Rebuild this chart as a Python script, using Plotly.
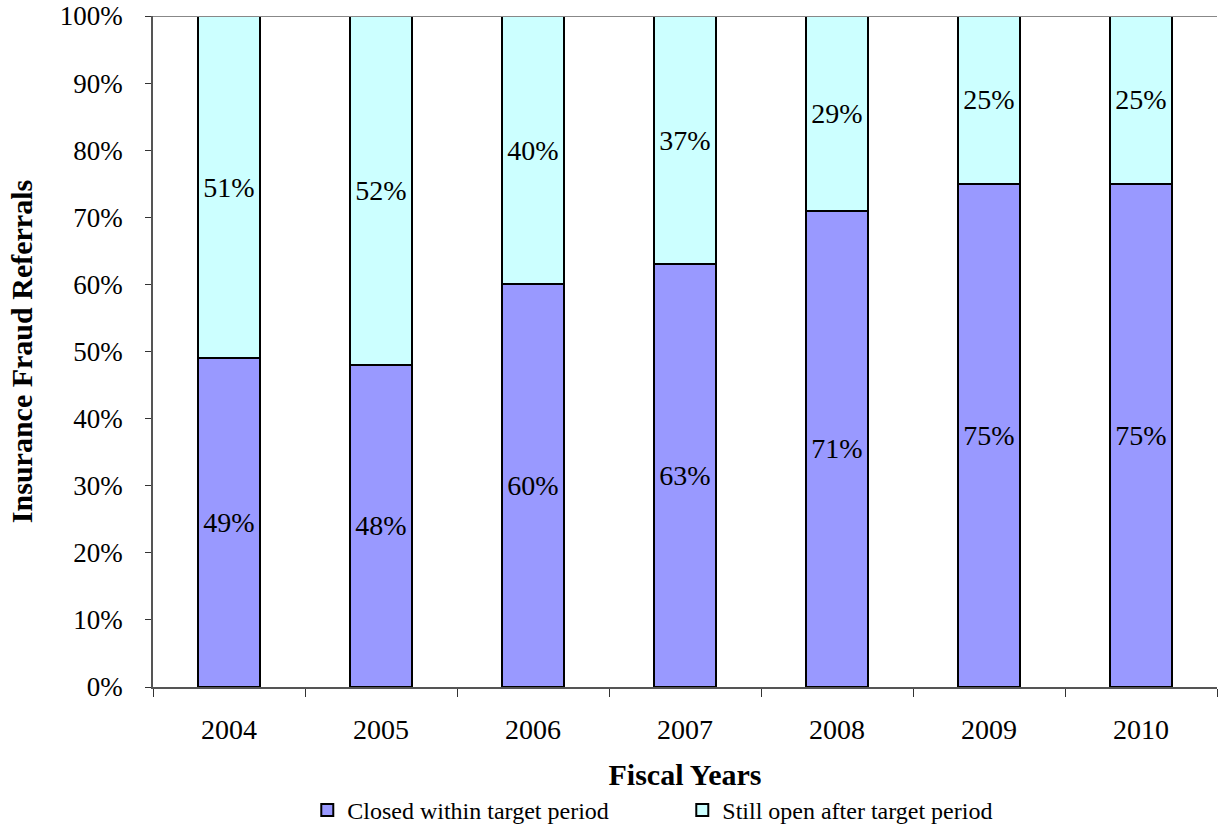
import plotly.graph_objects as go

years = ["2004", "2005", "2006", "2007", "2008", "2009", "2010"]
closed = [49, 48, 60, 63, 71, 75, 75]
still_open = [51, 52, 40, 37, 29, 25, 25]

FONT = "Liberation Serif, Times New Roman, serif"

fig = go.Figure()
fig.add_trace(go.Bar(
    x=years, y=closed, name="Closed within target period",
    marker=dict(color="#9999FF", line=dict(color="black", width=2)),
    text=[f"{v}%" for v in closed], textposition="inside", insidetextanchor="middle",
    textfont=dict(family=FONT, size=28, color="black"), width=0.41,
))
fig.add_trace(go.Bar(
    x=years, y=still_open, name="Still open after target period",
    marker=dict(color="#CCFFFF", line=dict(color="black", width=2)),
    text=[f"{v}%" for v in still_open], textposition="inside", insidetextanchor="middle",
    textfont=dict(family=FONT, size=28, color="black"), width=0.41,
))

fig.update_layout(
    barmode="stack",
    width=1221, height=827,
    margin=dict(l=153, r=4, t=16, b=140, autoexpand=False),
    plot_bgcolor="white", paper_bgcolor="white",
    font=dict(family=FONT, size=27, color="black"),
    uniformtext=dict(mode="show", minsize=28),
    showlegend=True,
    legend=dict(
        orientation="h", x=0.145, xanchor="left",
        y=-0.184, yanchor="middle",
        font=dict(family=FONT, size=24, color="black"),
        entrywidth=330, entrywidthmode="pixels",
        itemwidth=30, traceorder="normal",
    ),
    xaxis=dict(
        title=dict(text="<b>Fiscal Years</b>", font=dict(family=FONT, size=30), standoff=20),
        type="category", tickson="boundaries", ticks="outside", ticklen=8,
        tickcolor="#333", showline=True, linecolor="#555", linewidth=1.5,
        showgrid=False, tickfont=dict(size=28), ticklabelstandoff=17,
        automargin=False,
    ),
    yaxis=dict(
        title=dict(text="<b>Insurance Fraud Referrals</b>", font=dict(family=FONT, size=30), standoff=18),
        range=[0, 100], tickvals=list(range(0, 101, 10)),
        ticktext=[f"{v}%" for v in range(0, 101, 10)],
        ticks="outside", ticklen=6, tickcolor="#333",
        showline=True, linecolor="#555", linewidth=1.5,
        showgrid=False, zeroline=False, tickfont=dict(size=27),
        ticklabelstandoff=17, automargin=False,
    ),
)
fig.add_shape(type="line", xref="paper", yref="y", x0=0, x1=1, y0=100, y1=100,
              line=dict(color="#888", width=2))

fig.write_html("out.html")
